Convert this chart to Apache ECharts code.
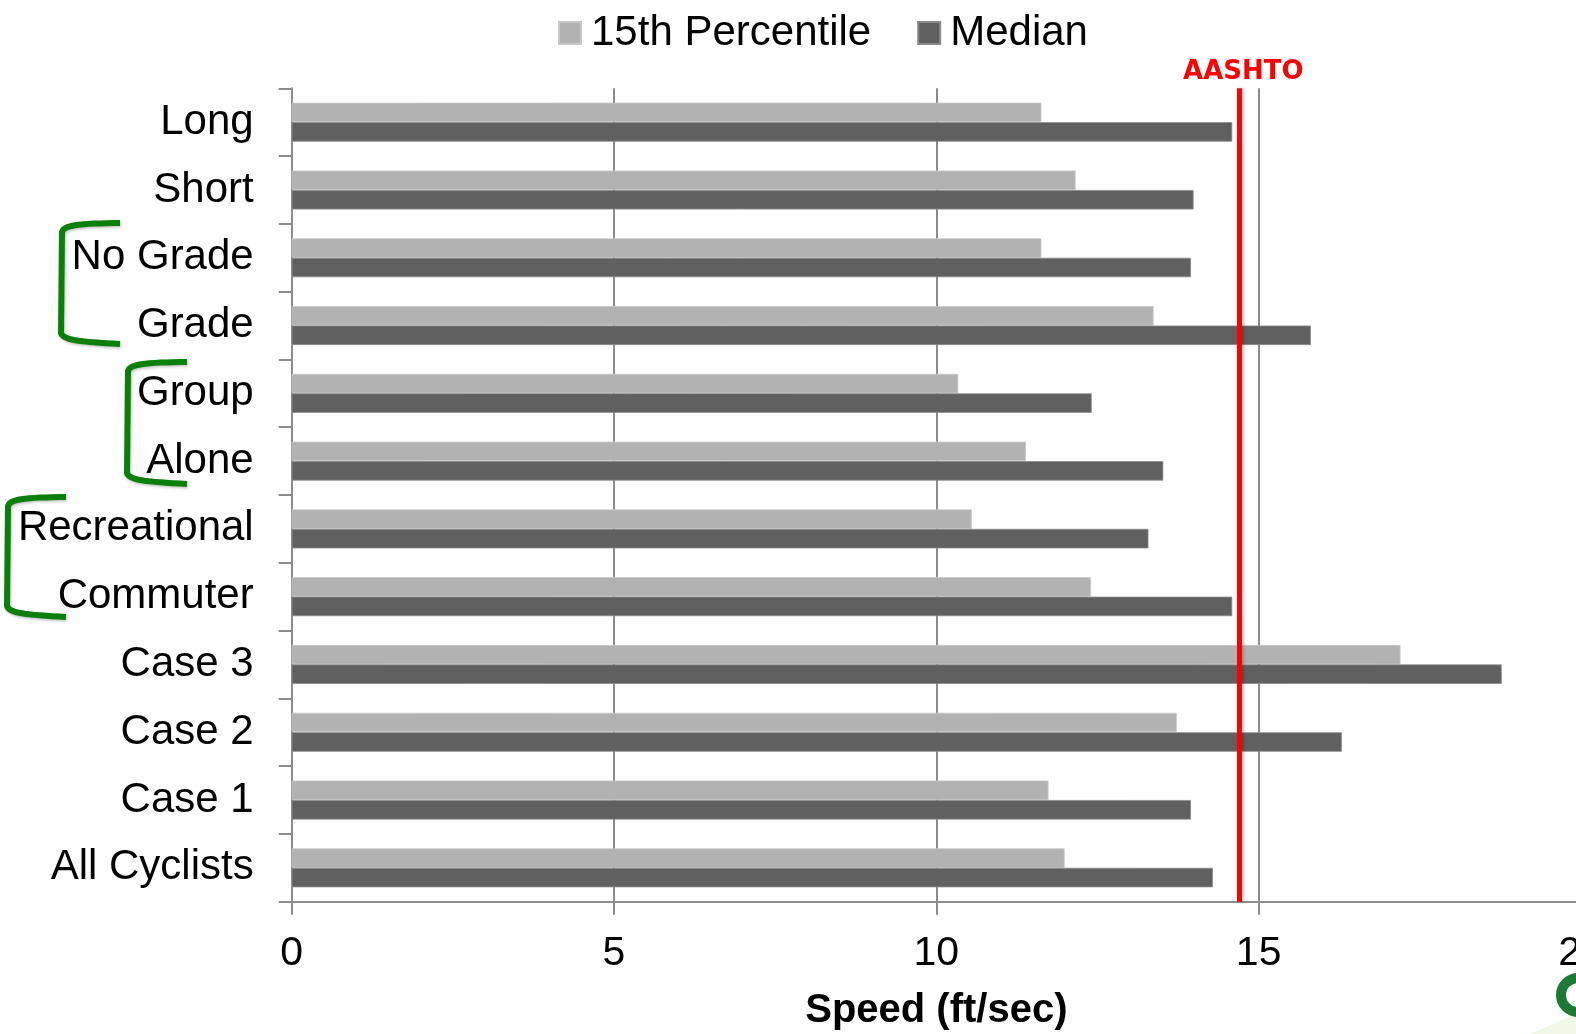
<!DOCTYPE html>
<html>
<head>
<meta charset="utf-8">
<title>Cyclist Speeds</title>
<script src="https://cdn.jsdelivr.net/npm/echarts@6/dist/echarts.min.js"></script>
<style>
  html, body { margin: 0; padding: 0; background: #ffffff; }
  #chart { width: 1576px; height: 1034px; }
</style>
</head>
<body>
<div id="chart"></div>
<script>
// Cyclist groups, listed top to bottom
const categories = ['Long', 'Short', 'No Grade', 'Grade', 'Group', 'Alone',
  'Recreational', 'Commuter', 'Case 3', 'Case 2', 'Case 1', 'All Cyclists'];

// Speeds in ft/sec
const percentile15 = [11.63, 12.16, 11.63, 13.37, 10.34, 11.39, 10.55, 12.40, 17.20, 13.73, 11.74, 11.99];
const median = [14.59, 13.99, 13.95, 15.81, 12.41, 13.52, 13.29, 14.59, 18.77, 16.29, 13.95, 14.29];

// AASHTO design speed reference
const aashtoSpeed = 14.7;

const xTicks = { min: 0, max: 20, interval: 5 };

const FONT = '"Liberation Sans", Arial, sans-serif';
const GRID_GRAY = '#8c8c8c';
const BRACKET_GREEN = '#0a800a';

const chart = echarts.init(document.getElementById('chart'), null, { renderer: 'canvas' });

// Points along a cubic Bezier segment
function cubic(p0, p1, p2, p3, steps) {
  const pts = [];
  for (let i = 0; i <= steps; i++) {
    const t = i / steps, u = 1 - t;
    pts.push([
      u * u * u * p0[0] + 3 * u * u * t * p1[0] + 3 * u * t * t * p2[0] + t * t * t * p3[0],
      u * u * u * p0[1] + 3 * u * u * t * p1[1] + 3 * u * t * t * p2[1] + t * t * t * p3[1]
    ]);
  }
  return pts;
}

// Hand-drawn style bracket: top arm, rounded corner, vertical stroke, rounded corner, bottom arm
function bracket(x0, xArm, yTop, yBot) {
  const top = cubic([xArm, yTop], [x0 + 25, yTop + 0.5], [x0 + 3, yTop + 1], [x0 + 1, yTop + 9], 14);
  const bot = cubic([x0, yBot - 9], [x0 + 2, yBot - 1], [x0 + 25, yBot], [xArm, yBot + 2], 14);
  return {
    type: 'polyline',
    shape: { points: top.concat(bot) },
    style: {
      stroke: BRACKET_GREEN,
      lineWidth: 6,
      lineJoin: 'round',
      lineCap: 'butt',
      fill: null,
      shadowColor: 'rgba(0,0,0,0.25)',
      shadowBlur: 3,
      shadowOffsetX: 1,
      shadowOffsetY: 1.5
    },
    silent: true,
    z: 10
  };
}

const option = {
  animation: false,
  backgroundColor: '#ffffff',
  textStyle: { fontFamily: FONT },
  legend: {
    left: 553,
    top: 6,
    itemWidth: 22,
    itemHeight: 22,
    itemGap: 46,
    icon: 'rect',
    textStyle: { fontSize: 42, color: '#000', fontFamily: FONT, lineHeight: 44, padding: [0, 0, 0, 5] },
    data: ['15th Percentile', 'Median']
  },
  grid: {
    left: 291.7,
    top: 88.3,
    right: -5,
    bottom: 132.3,
    outerBoundsMode: 'none',
    containLabel: false
  },
  xAxis: {
    type: 'value',
    min: xTicks.min,
    max: xTicks.max,
    interval: xTicks.interval,
    name: 'Speed (ft/sec)',
    nameLocation: 'middle',
    nameGap: 89,
    nameTextStyle: { fontSize: 40, fontWeight: 'bold', color: '#000', fontFamily: FONT },
    axisLine: { show: true, lineStyle: { color: GRID_GRAY, width: 2 } },
    axisTick: { show: true, length: 13, lineStyle: { color: GRID_GRAY, width: 2 } },
    axisLabel: { fontSize: 41, color: '#000', margin: 31, fontFamily: FONT, showMaxLabel: true },
    splitLine: { show: true, lineStyle: { color: GRID_GRAY, width: 2 } }
  },
  yAxis: {
    type: 'category',
    inverse: true,
    data: categories,
    axisLine: { show: true, lineStyle: { color: GRID_GRAY, width: 2 } },
    axisTick: { show: true, length: 13, lineStyle: { color: GRID_GRAY, width: 2 } },
    axisLabel: { fontSize: 42, color: '#000', margin: 38, fontFamily: FONT },
    splitLine: { show: false }
  },
  series: [
    {
      name: '15th Percentile',
      type: 'bar',
      data: percentile15,
      barWidth: 19.5,
      barGap: '0%',
      itemStyle: { color: '#b2b2b2', borderColor: '#c9c9c9', borderWidth: 0.8 },
      z: 2
    },
    {
      name: 'Median',
      type: 'bar',
      data: median,
      barWidth: 19.5,
      barGap: '0%',
      itemStyle: { color: '#606060', borderColor: '#8a8a8a', borderWidth: 0.8 },
      z: 2,
      markLine: {
        silent: true,
        symbol: ['none', 'none'],
        animation: false,
        lineStyle: {
          color: '#ff0000',
          width: 5,
          type: 'solid',
          shadowColor: 'rgba(0,0,0,0.2)',
          shadowBlur: 3,
          shadowOffsetX: 2
        },
        label: {
          show: true,
          position: 'start',
          formatter: 'AASHTO',
          color: '#ff0000',
          fontSize: 26,
          fontWeight: 'bold',
          fontFamily: '"DejaVu Sans", sans-serif',
          distance: 3,
          offset: [4, 0]
        },
        data: [{ xAxis: aashtoSpeed }],
        z: 5
      }
    }
  ],
  graphic: [
    bracket(61, 120, 223, 342),
    bracket(127, 187, 362, 482),
    bracket(7, 66, 497, 615),
    {
      type: 'polygon',
      shape: { points: [[1530, 1034], [1576, 1014], [1576, 1034]] },
      style: { fill: 'rgba(205, 232, 170, 0.3)' },
      silent: true
    },
    {
      type: 'ring',
      shape: { cx: 1578, cy: 995, r: 22, r0: 12 },
      style: { fill: '#1c7a34' },
      silent: true
    }
  ]
};

chart.setOption(option);
</script>
</body>
</html>
